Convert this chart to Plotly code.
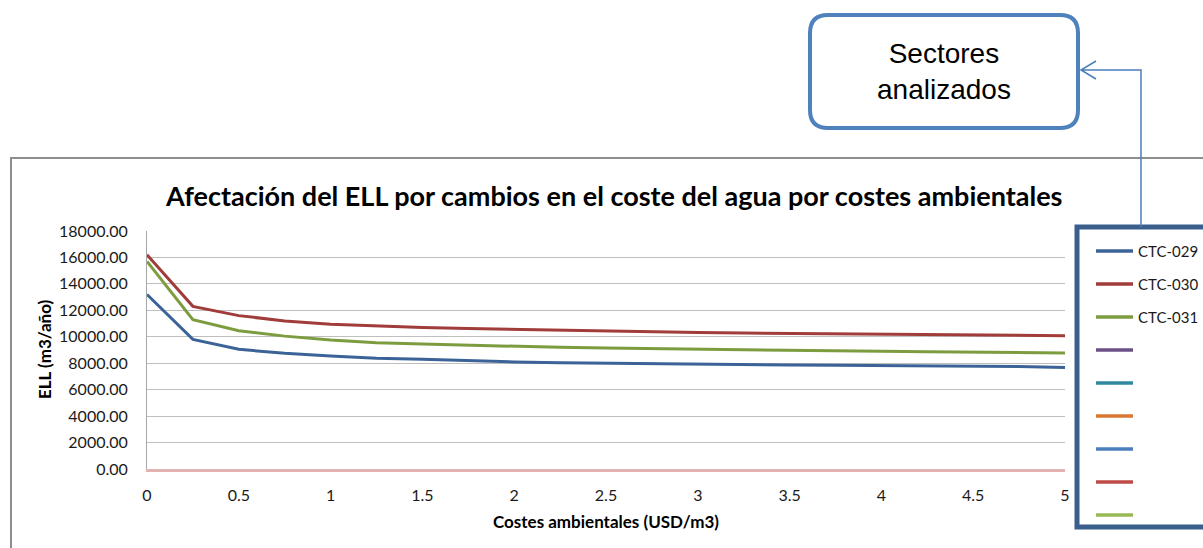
import plotly.graph_objects as go

# Environmental cost applied to water (USD/m3)
costes = [0, 0.25, 0.5, 0.75, 1, 1.25, 1.5, 1.75, 2, 2.25, 2.5,
          2.75, 3, 3.25, 3.5, 3.75, 4, 4.25, 4.5, 4.75, 5]

# Economic level of leakage per sector (m3/año)
ctc_029 = [13200, 9800, 9050, 8750, 8550, 8380, 8300, 8180, 8100, 8040, 8000,
           7950, 7920, 7900, 7870, 7850, 7830, 7810, 7790, 7760, 7680]
ctc_030 = [16200, 12300, 11600, 11200, 10950, 10800, 10700, 10620, 10550, 10480, 10420,
           10370, 10320, 10280, 10250, 10220, 10190, 10160, 10130, 10100, 10080]
ctc_031 = [15700, 11300, 10450, 10050, 9750, 9550, 9450, 9350, 9250, 9200, 9150,
           9100, 9050, 9000, 8970, 8940, 8900, 8870, 8840, 8810, 8780]

series_names = ["CTC-029", "CTC-030", "CTC-031"]
series_values = [ctc_029, ctc_030, ctc_031]

# legend entries: the three sectors plus six unnamed, empty series
legend_names = ["CTC-029", "CTC-030", "CTC-031", "", "", "", "", "", ""]
legend_colors = ["#3B6398", "#A03C3A", "#7D9C40", "#6B5087", "#31889E",
                 "#DA7A32", "#4A7EBB", "#BE4B48", "#98B954"]

x_ticks = [0, 0.5, 1, 1.5, 2, 2.5, 3, 3.5, 4, 4.5, 5]
y_ticks = [0, 2000, 4000, 6000, 8000, 10000, 12000, 14000, 16000, 18000]

W, H = 1203, 548
L, R, T, B = 147, 1065, 231, 469  # plot area in pixels


def px(x):
    return (x - L) / (R - L)


def py(y):
    return (B - y) / (B - T)


FONT = "Lato, Carlito, Calibri, sans-serif"

fig = go.Figure()
for name, vals, col in zip(series_names, series_values, legend_colors):
    fig.add_trace(go.Scatter(
        x=costes, y=vals, name=name, mode="lines",
        line=dict(color=col, width=3), showlegend=False,
    ))

shapes = []
# outer chart frame
shapes.append(dict(type="rect", xref="paper", yref="paper",
                   x0=px(11), x1=px(1230), y0=py(158), y1=py(580),
                   line=dict(color="#8E8E8E", width=2), layer="below"))
# legend frame
shapes.append(dict(type="rect", xref="paper", yref="paper",
                   x0=px(1077), x1=px(1240), y0=py(227), y1=py(527),
                   line=dict(color="#3A5F8C", width=5)))
# callout box with rounded corners
x0, x1, y0, y1, r = 810, 1078, 15, 128, 18
path = (f"M {px(x0 + r)},{py(y0)} L {px(x1 - r)},{py(y0)} "
        f"Q {px(x1)},{py(y0)} {px(x1)},{py(y0 + r)} "
        f"L {px(x1)},{py(y1 - r)} Q {px(x1)},{py(y1)} {px(x1 - r)},{py(y1)} "
        f"L {px(x0 + r)},{py(y1)} Q {px(x0)},{py(y1)} {px(x0)},{py(y1 - r)} "
        f"L {px(x0)},{py(y0 + r)} Q {px(x0)},{py(y0)} {px(x0 + r)},{py(y0)} Z")
shapes.append(dict(type="path", xref="paper", yref="paper", path=path,
                   fillcolor="white", line=dict(color="#4F81BD", width=4)))
# connector from legend to callout, with open arrow head
conn = (f"M {px(1141)},{py(227)} L {px(1141)},{py(70)} L {px(1081)},{py(70)} "
        f"M {px(1096)},{py(61)} L {px(1081)},{py(70)} L {px(1096)},{py(79)}")
shapes.append(dict(type="path", xref="paper", yref="paper", path=conn,
                   line=dict(color="#4A7EBB", width=1.5)))

annotations = [
    dict(text="<b>Afectación del ELL por cambios en el coste del agua por costes ambientales</b>",
         x=px(613), y=py(195),
         font=dict(family=FONT, size=27, color="#000000")),
    dict(text="<b>ELL (m3/año)</b>", textangle=-90,
         x=px(44), y=py(350),
         font=dict(family=FONT, size=17, color="#000000")),
    dict(text="<b>Costes ambientales (USD/m3)</b>",
         x=px(606), y=py(521),
         font=dict(family=FONT, size=17, color="#000000")),
    dict(text="Sectores<br>analizados",
         x=px(944), y=py(71),
         font=dict(family="Liberation Sans, Arial, sans-serif", size=28, color="#000000")),
]
for a in annotations:
    a.update(xref="paper", yref="paper", showarrow=False,
             xanchor="center", yanchor="middle")

# legend samples and labels
for i, (name, col) in enumerate(zip(legend_names, legend_colors)):
    yy = 251 + 33 * i
    shapes.append(dict(type="line", xref="paper", yref="paper",
                       x0=px(1096), x1=px(1133), y0=py(yy), y1=py(yy),
                       line=dict(color=col, width=3.5)))
    if name:
        annotations.append(dict(text=name, x=px(1136), y=py(yy),
                                xref="paper", yref="paper", showarrow=False,
                                xanchor="left", yanchor="middle",
                                font=dict(family=FONT, size=15, color="#1A1A1A")))

fig.update_layout(
    width=W, height=H,
    margin=dict(l=L, r=W - R, t=T, b=H - B, pad=0),
    paper_bgcolor="white", plot_bgcolor="white",
    shapes=shapes, annotations=annotations,
    showlegend=False,
    xaxis=dict(range=[0, 5], tickvals=x_ticks,
               ticktext=[f"{v:g}" for v in x_ticks],
               showgrid=False, zeroline=False, showline=True,
               linecolor="#E3B3B2", linewidth=3, ticks="",
               ticklabelstandoff=10,
               tickfont=dict(family=FONT, size=16, color="#1A1A1A")),
    yaxis=dict(range=[0, 18000], tickvals=y_ticks,
               ticktext=[f"{v:.2f}" for v in y_ticks],
               showgrid=True, gridcolor="#BFBFBF", gridwidth=1,
               zeroline=False, showline=True, linecolor="#A6A6A6", linewidth=1,
               ticks="", ticklabelstandoff=15,
               tickfont=dict(family=FONT, size=16, color="#1A1A1A")),
)

fig.write_html("out.html")
